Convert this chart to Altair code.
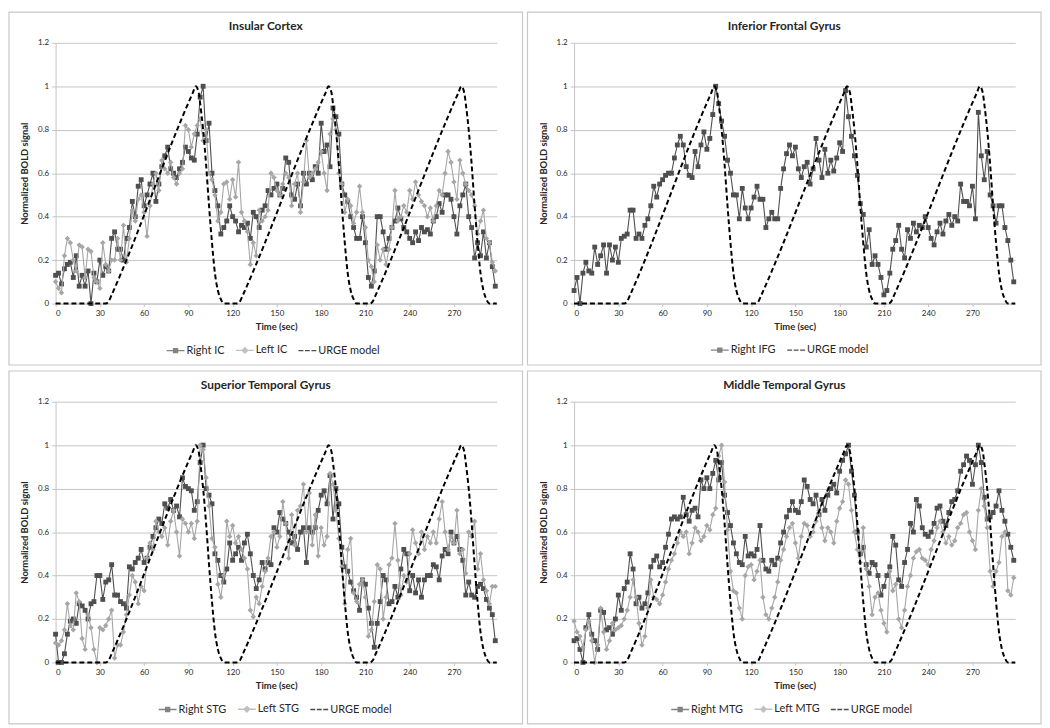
import altair as alt
import pandas as pd

FONT = "Lato"

# sample times (s)
time = list(range(0, 300, 2))

# URGE model breakpoints
model_time = [0, 34, 36, 38, 93, 95, 97, 98, 100, 102, 104, 106, 108, 110, 112, 114,
              123, 125, 127, 183, 185, 187, 188, 190, 192, 194, 196, 198, 200, 202, 204,
              213, 215, 217, 273, 275, 277, 278, 280, 282, 284, 286, 288, 290, 292, 294, 299]
model_value = [0, 0, 0.01, 0.04, 0.97, 1.0, 0.97, 0.92, 0.8, 0.64, 0.45, 0.28, 0.14, 0.06, 0.02, 0,
               0, 0.01, 0.04, 0.97, 1.0, 0.97, 0.92, 0.8, 0.64, 0.45, 0.28, 0.14, 0.06, 0.02, 0,
               0, 0.01, 0.04, 0.97, 1.0, 0.97, 0.92, 0.8, 0.64, 0.45, 0.28, 0.14, 0.06, 0.02, 0, 0]

ic_right = [0.13, 0.14, 0.09, 0.16, 0.18, 0.19, 0.12, 0.22, 0.08, 0.13, 0.08, 0.15, 0.00, 0.14, 0.10,
            0.20, 0.13, 0.17, 0.15, 0.30, 0.33, 0.25, 0.25, 0.20, 0.30, 0.35, 0.47, 0.40, 0.54, 0.57,
            0.45, 0.50, 0.55, 0.60, 0.47, 0.55, 0.63, 0.68, 0.72, 0.62, 0.60, 0.58, 0.62, 0.65, 0.72,
            0.70, 0.67, 0.66, 0.78, 0.95, 1.00, 0.75, 0.83, 0.60, 0.52, 0.45, 0.32, 0.35, 0.38, 0.45,
            0.40, 0.38, 0.33, 0.36, 0.35, 0.37, 0.30, 0.42, 0.40, 0.35, 0.43, 0.45, 0.52, 0.50, 0.53,
            0.55, 0.50, 0.53, 0.67, 0.65, 0.50, 0.48, 0.55, 0.45, 0.60, 0.55, 0.60, 0.57, 0.63, 0.60,
            0.83, 0.70, 0.73, 0.63, 0.90, 0.86, 0.78, 0.55, 0.50, 0.47, 0.40, 0.35, 0.30, 0.30, 0.40,
            0.28, 0.12, 0.08, 0.15, 0.40, 0.40, 0.33, 0.25, 0.30, 0.35, 0.38, 0.44, 0.39, 0.35, 0.33,
            0.30, 0.28, 0.33, 0.29, 0.35, 0.33, 0.34, 0.32, 0.38, 0.40, 0.46, 0.42, 0.50, 0.50, 0.48,
            0.40, 0.32, 0.45, 0.50, 0.55, 0.40, 0.35, 0.21, 0.28, 0.22, 0.33, 0.21, 0.28, 0.17, 0.08]
ic_left = [0.10, 0.07, 0.05, 0.22, 0.30, 0.28, 0.20, 0.15, 0.27, 0.26, 0.12, 0.25, 0.24, 0.12, 0.10,
           0.07, 0.28, 0.18, 0.15, 0.20, 0.20, 0.30, 0.20, 0.36, 0.19, 0.30, 0.43, 0.38, 0.48, 0.50,
           0.42, 0.31, 0.45, 0.55, 0.60, 0.52, 0.66, 0.62, 0.60, 0.65, 0.58, 0.55, 0.60, 0.62, 0.82,
           0.80, 0.72, 0.78, 0.82, 0.85, 0.75, 0.80, 0.60, 0.57, 0.50, 0.38, 0.42, 0.55, 0.56, 0.48,
           0.57, 0.49, 0.65, 0.42, 0.38, 0.33, 0.18, 0.28, 0.22, 0.43, 0.38, 0.40, 0.43, 0.60, 0.58,
           0.52, 0.50, 0.55, 0.60, 0.58, 0.45, 0.55, 0.60, 0.42, 0.56, 0.75, 0.58, 0.60, 0.62, 0.65,
           0.70, 0.60, 0.52, 0.78, 0.85, 0.80, 0.60, 0.55, 0.42, 0.48, 0.45, 0.37, 0.42, 0.54, 0.42,
           0.35, 0.20, 0.17, 0.10, 0.27, 0.20, 0.25, 0.18, 0.25, 0.35, 0.52, 0.38, 0.40, 0.45, 0.42,
           0.52, 0.48, 0.56, 0.50, 0.47, 0.45, 0.40, 0.44, 0.38, 0.45, 0.52, 0.50, 0.60, 0.70, 0.65,
           0.56, 0.48, 0.66, 0.60, 0.55, 0.52, 0.50, 0.45, 0.32, 0.38, 0.43, 0.30, 0.28, 0.19, 0.15]

ifg_right = [0.06, 0.12, 0.00, 0.14, 0.19, 0.15, 0.14, 0.26, 0.18, 0.22, 0.27, 0.14, 0.27, 0.20, 0.26,
             0.19, 0.30, 0.31, 0.32, 0.43, 0.43, 0.30, 0.32, 0.30, 0.36, 0.39, 0.45, 0.54, 0.49, 0.55,
             0.57, 0.59, 0.60, 0.60, 0.67, 0.73, 0.77, 0.73, 0.63, 0.59, 0.58, 0.70, 0.63, 0.73, 0.79,
             0.71, 0.76, 0.87, 1.00, 0.92, 0.84, 0.77, 0.66, 0.60, 0.50, 0.50, 0.39, 0.53, 0.44, 0.39,
             0.44, 0.49, 0.54, 0.48, 0.48, 0.35, 0.39, 0.42, 0.39, 0.39, 0.53, 0.62, 0.69, 0.73, 0.68,
             0.72, 0.62, 0.58, 0.63, 0.65, 0.55, 0.62, 0.76, 0.66, 0.58, 0.71, 0.60, 0.66, 0.61, 0.67,
             0.74, 0.70, 0.98, 0.86, 0.77, 0.68, 0.59, 0.46, 0.41, 0.26, 0.34, 0.18, 0.22, 0.18, 0.12,
             0.04, 0.06, 0.14, 0.25, 0.29, 0.36, 0.25, 0.21, 0.34, 0.30, 0.37, 0.33, 0.36, 0.35, 0.40,
             0.35, 0.30, 0.27, 0.33, 0.37, 0.32, 0.38, 0.41, 0.36, 0.40, 0.38, 0.55, 0.47, 0.47, 0.45,
             0.54, 0.39, 0.88, 0.68, 0.57, 0.70, 0.50, 0.45, 0.37, 0.45, 0.45, 0.35, 0.29, 0.20, 0.10]

stg_right = [0.13, 0.00, 0.00, 0.04, 0.13, 0.19, 0.20, 0.18, 0.27, 0.26, 0.24, 0.20, 0.27, 0.28, 0.40,
             0.40, 0.29, 0.37, 0.38, 0.45, 0.31, 0.31, 0.28, 0.27, 0.25, 0.44, 0.43, 0.46, 0.48, 0.52,
             0.46, 0.48, 0.53, 0.58, 0.62, 0.66, 0.64, 0.73, 0.71, 0.75, 0.70, 0.72, 0.67, 0.85, 0.81,
             0.80, 0.79, 0.70, 0.74, 0.92, 1.00, 0.80, 0.77, 0.73, 0.50, 0.47, 0.40, 0.37, 0.43, 0.55,
             0.47, 0.50, 0.53, 0.47, 0.55, 0.59, 0.50, 0.40, 0.34, 0.38, 0.46, 0.43, 0.46, 0.45, 0.62,
             0.60, 0.69, 0.66, 0.64, 0.60, 0.55, 0.58, 0.52, 0.60, 0.62, 0.46, 0.62, 0.60, 0.62, 0.70,
             0.77, 0.79, 0.73, 0.86, 0.66, 0.80, 0.73, 0.53, 0.44, 0.42, 0.37, 0.33, 0.30, 0.24, 0.38,
             0.36, 0.25, 0.18, 0.07, 0.18, 0.28, 0.40, 0.38, 0.27, 0.28, 0.35, 0.30, 0.43, 0.52, 0.50,
             0.33, 0.40, 0.32, 0.38, 0.30, 0.38, 0.40, 0.40, 0.45, 0.44, 0.38, 0.49, 0.52, 0.50, 0.60,
             0.55, 0.58, 0.52, 0.47, 0.31, 0.37, 0.31, 0.30, 0.35, 0.36, 0.34, 0.29, 0.25, 0.22, 0.10]
stg_left = [0.09, 0.08, 0.10, 0.15, 0.27, 0.17, 0.15, 0.32, 0.28, 0.11, 0.06, 0.22, 0.16, 0.06, 0.00,
            0.16, 0.15, 0.17, 0.20, 0.24, 0.02, 0.08, 0.08, 0.14, 0.22, 0.31, 0.40, 0.37, 0.27, 0.35,
            0.33, 0.48, 0.55, 0.52, 0.65, 0.60, 0.58, 0.62, 0.54, 0.65, 0.70, 0.60, 0.49, 0.66, 0.64,
            0.60, 0.64, 0.57, 0.65, 1.00, 0.98, 0.85, 0.72, 0.57, 0.53, 0.36, 0.30, 0.40, 0.65, 0.58,
            0.63, 0.55, 0.58, 0.52, 0.48, 0.43, 0.24, 0.21, 0.30, 0.27, 0.35, 0.42, 0.48, 0.58, 0.60,
            0.53, 0.58, 0.74, 0.64, 0.48, 0.68, 0.54, 0.70, 0.72, 0.82, 0.60, 0.78, 0.54, 0.68, 0.49,
            0.62, 0.54, 0.58, 0.87, 0.82, 0.70, 0.57, 0.44, 0.27, 0.52, 0.57, 0.32, 0.28, 0.36, 0.38,
            0.30, 0.12, 0.15, 0.28, 0.45, 0.43, 0.20, 0.30, 0.45, 0.48, 0.64, 0.47, 0.31, 0.40, 0.37,
            0.50, 0.61, 0.55, 0.50, 0.60, 0.52, 0.58, 0.55, 0.60, 0.55, 0.66, 0.74, 0.60, 0.52, 0.58,
            0.55, 0.70, 0.50, 0.52, 0.41, 0.60, 0.58, 0.65, 0.43, 0.50, 0.38, 0.33, 0.27, 0.35, 0.35]

mtg_right = [0.10, 0.11, 0.06, 0.00, 0.16, 0.22, 0.13, 0.10, 0.06, 0.24, 0.23, 0.15, 0.16, 0.13, 0.20,
             0.31, 0.24, 0.34, 0.37, 0.50, 0.43, 0.27, 0.30, 0.25, 0.27, 0.32, 0.44, 0.47, 0.49, 0.44,
             0.46, 0.53, 0.59, 0.66, 0.67, 0.66, 0.67, 0.76, 0.68, 0.65, 0.70, 0.71, 0.67, 0.84, 0.80,
             0.85, 0.80, 0.87, 0.93, 0.84, 0.92, 0.77, 0.69, 0.63, 0.55, 0.50, 0.46, 0.45, 0.58, 0.49,
             0.50, 0.49, 0.52, 0.63, 0.47, 0.43, 0.42, 0.47, 0.45, 0.48, 0.55, 0.60, 0.67, 0.70, 0.74,
             0.70, 0.69, 0.74, 0.84, 0.81, 0.75, 0.73, 0.77, 0.68, 0.75, 0.70, 0.77, 0.80, 0.82, 0.78,
             0.88, 0.93, 0.96, 1.00, 0.88, 0.77, 0.60, 0.50, 0.53, 0.45, 0.41, 0.46, 0.45, 0.40, 0.31,
             0.35, 0.40, 0.44, 0.58, 0.54, 0.38, 0.35, 0.46, 0.52, 0.64, 0.60, 0.75, 0.72, 0.62, 0.59,
             0.58, 0.60, 0.64, 0.71, 0.72, 0.65, 0.63, 0.69, 0.74, 0.75, 0.79, 0.88, 0.91, 0.95, 0.93,
             0.82, 0.91, 1.00, 0.92, 0.76, 0.66, 0.67, 0.69, 0.72, 0.79, 0.70, 0.65, 0.59, 0.53, 0.47]
mtg_left = [0.19, 0.14, 0.12, 0.07, 0.15, 0.19, 0.10, 0.00, 0.08, 0.25, 0.14, 0.06, 0.10, 0.18, 0.15,
            0.16, 0.17, 0.20, 0.24, 0.30, 0.38, 0.30, 0.18, 0.08, 0.12, 0.25, 0.38, 0.30, 0.29, 0.27,
            0.31, 0.37, 0.43, 0.47, 0.50, 0.55, 0.60, 0.58, 0.60, 0.50, 0.55, 0.62, 0.60, 0.56, 0.58,
            0.63, 0.61, 0.68, 0.71, 0.95, 1.00, 0.83, 0.61, 0.42, 0.33, 0.32, 0.25, 0.20, 0.40, 0.44,
            0.45, 0.38, 0.42, 0.47, 0.30, 0.22, 0.20, 0.25, 0.30, 0.37, 0.47, 0.52, 0.58, 0.62, 0.64,
            0.55, 0.48, 0.58, 0.64, 0.63, 0.58, 0.60, 0.65, 0.70, 0.62, 0.56, 0.62, 0.60, 0.55, 0.65,
            0.71, 0.74, 0.84, 0.82, 0.70, 0.60, 0.52, 0.46, 0.62, 0.43, 0.35, 0.22, 0.30, 0.32, 0.24,
            0.18, 0.14, 0.42, 0.33, 0.36, 0.20, 0.16, 0.24, 0.35, 0.40, 0.48, 0.51, 0.52, 0.48, 0.47,
            0.45, 0.52, 0.56, 0.62, 0.65, 0.60, 0.55, 0.58, 0.54, 0.56, 0.62, 0.64, 0.68, 0.69, 0.60,
            0.56, 0.52, 0.70, 0.80, 0.72, 0.62, 0.42, 0.35, 0.42, 0.46, 0.58, 0.60, 0.33, 0.31, 0.39]

DARK = "#4f4f4f"
LIGHT = "#a6a6a6"
MODEL = "#000000"
GRID = "#c4c4c4"
TEXT = "#262626"

# plot area and panel-frame geometry
PW, PH = 445, 263
FL, FR, FT, FB = 47, 26, 31, 62

SQ_PATH = "M-1,0H1M-0.22,-0.22H0.22V0.22H-0.22Z"
DI_PATH = "M-1,0H1M0,-0.3L0.3,0L0,0.3L-0.3,0Z"
DASH_PATH = "M-1,0H-0.45M-0.27,0H0.27M0.45,0H1"


def panel(title, right_name, right_vals, left_name, left_vals, legend_x):
    x_enc = alt.X("t:Q", scale=alt.Scale(domain=[0, 299], nice=False, zero=False),
                  axis=alt.Axis(values=list(range(0, 271, 30)), title="Time (sec)", grid=False,
                                domainColor=GRID, tickColor=GRID, tickSize=3,
                                labelFontSize=8, labelColor=TEXT, labelPadding=3,
                                titleFontSize=9.5, titleFontWeight="bold", titleColor=TEXT,
                                titlePadding=4))
    y_enc = alt.Y("v:Q", scale=alt.Scale(domain=[0, 1.2], nice=False),
                  axis=alt.Axis(values=[0, 0.2, 0.4, 0.6, 0.8, 1.0, 1.2], format="~g",
                                title="Normalized BOLD signal", grid=True, gridColor=GRID,
                                domainColor=GRID, tickColor=GRID, tickSize=4,
                                labelFontSize=8, labelColor=TEXT, labelPadding=3,
                                titleFontSize=9.5, titleFontWeight="bold", titleColor=TEXT,
                                titlePadding=8))

    frame = alt.Chart(pd.DataFrame({"k": [0]})).mark_rect(
        filled=False, stroke="#c8c8c8", strokeWidth=1.2).encode(
        x=alt.value(-FL), x2=alt.value(PW + FR), y=alt.value(-FT), y2=alt.value(PH + FB))

    head = alt.Chart(pd.DataFrame({"title": [title]})).mark_text(
        font=FONT, fontSize=12, fontWeight="bold", color=TEXT, align="center", baseline="middle").encode(
        text="title:N", x=alt.value((PW + FR - FL) / 2), y=alt.value(-17))

    layers = [frame, head]
    names = [right_name]
    colors = [DARK]
    paths = [SQ_PATH]

    rdf = pd.DataFrame({"t": time, "v": right_vals})
    layers.append(alt.Chart(rdf).mark_line(color=DARK, strokeWidth=1.1).encode(x=x_enc, y=y_enc))
    layers.append(alt.Chart(rdf).mark_point(filled=True, shape="square", size=24, color=DARK, opacity=1)
                  .encode(x=x_enc, y=y_enc))
    if left_vals is not None:
        ldf = pd.DataFrame({"t": time, "v": left_vals})
        layers.append(alt.Chart(ldf).mark_line(color=LIGHT, strokeWidth=1.1).encode(x=x_enc, y=y_enc))
        layers.append(alt.Chart(ldf).mark_point(filled=True, shape="diamond", size=30, color=LIGHT, opacity=1)
                      .encode(x=x_enc, y=y_enc))
        names.append(left_name)
        colors.append(LIGHT)
        paths.append(DI_PATH)

    mdf = pd.DataFrame({"t": model_time, "v": model_value})
    layers.append(alt.Chart(mdf).mark_line(color=MODEL, strokeWidth=2, strokeDash=[5, 3],
                                           interpolate="monotone").encode(x=x_enc, y=y_enc))
    names.append("URGE model")
    colors.append(MODEL)
    paths.append(DASH_PATH)

    leg = alt.Legend(orient="none", legendX=legend_x, legendY=PH + 37, direction="horizontal",
                     title=None, symbolSize=324, symbolStrokeWidth=1.4, labelFont=FONT,
                     labelFontSize=11, labelColor=TEXT, labelOffset=1, columnPadding=8)
    ldata = pd.DataFrame({"s": names})
    legend_layer = alt.Chart(ldata).mark_point(filled=True).encode(
        color=alt.Color("s:N", scale=alt.Scale(domain=names, range=colors), legend=leg),
        stroke=alt.Stroke("s:N", scale=alt.Scale(domain=names, range=colors), legend=leg),
        shape=alt.Shape("s:N", scale=alt.Scale(domain=names, range=paths), legend=leg),
    ).transform_filter("false")
    layers.append(legend_layer)

    return alt.layer(*layers).properties(width=PW, height=PH)


p1 = panel("Insular Cortex", "Right IC", ic_right, "Left IC", ic_left, 111)
p2 = panel("Inferior Frontal Gyrus", "Right IFG", ifg_right, None, None, 137)
p3 = panel("Superior Temporal Gyrus", "Right STG", stg_right, "Left STG", stg_left, 103)
p4 = panel("Middle Temporal Gyrus", "Right MTG", mtg_right, "Left MTG", mtg_left, 97)

chart = alt.concat(p1, p2, p3, p4, columns=2, spacing={"row": 4, "column": 3}).resolve_scale(
    color="independent", stroke="independent", shape="independent"
).resolve_legend(color="independent", stroke="independent", shape="independent").properties(
    padding=0, background="white"
).configure_view(strokeWidth=0).configure_axis(labelFont=FONT, titleFont=FONT)

chart.save("out.html", embed_options={"renderer": "svg", "actions": False})
